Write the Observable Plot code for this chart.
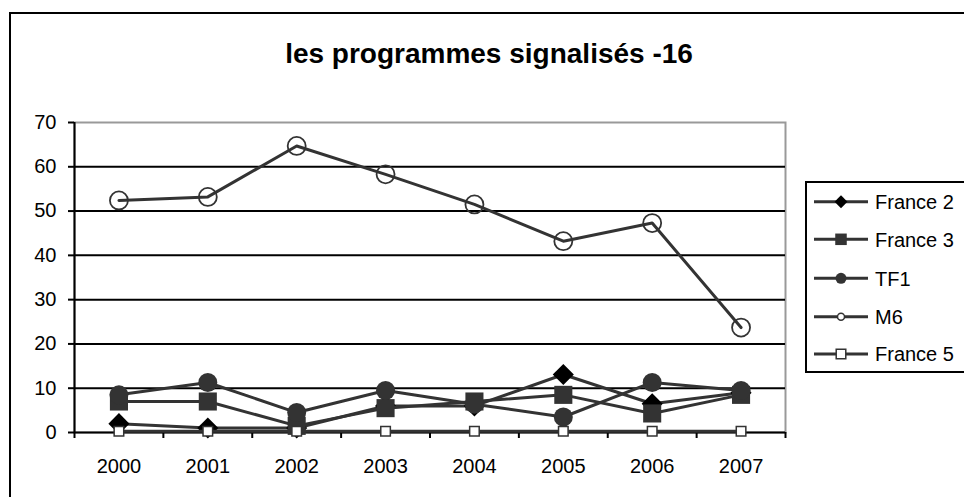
<!DOCTYPE html>
<html><head><meta charset="utf-8">
<script src="https://cdn.jsdelivr.net/npm/d3@7"></script>
<script src="https://cdn.jsdelivr.net/npm/@observablehq/plot@0.6"></script>
<style>
body{margin:0;background:#fff;}
#wrap{position:relative;width:964px;height:497px;overflow:hidden;}
#wrap svg{display:block;overflow:hidden;}
</style></head><body><div id="wrap"></div>
<script>
const titleText = "les programmes signalisés -16";
const years = [2000, 2001, 2002, 2003, 2004, 2005, 2006, 2007];
const seriesNames = ["France 2", "France 3", "TF1", "M6", "France 5"];
const france2 = [2, 1, 1, 6, 6, 13.1, 6.5, 9];
const france3 = [7, 7, 1.5, 5.5, 7, 8.5, 4.3, 8.5];
const tf1 = [8.5, 11.3, 4.5, 9.5, 6.4, 3.5, 11.3, 9.5];
const m6 = [52.4, 53.2, 64.7, 58.3, 51.5, 43.2, 47.3, 23.7];
const france5 = [0.3, 0.3, 0.3, 0.3, 0.3, 0.3, 0.3, 0.3];
const yTicks = [0, 10, 20, 30, 40, 50, 60, 70];

const seriesValues = [france2, france3, tf1, m6, france5];
// marker styles per series (same order as seriesNames)
const styles = [
  {symbol: "diamond2", r: 9.5, fill: "#000", stroke: "none", sw: 0, lr: 5.8},
  {symbol: "square", r: 10.2, fill: "#333", stroke: "none", sw: 0, lr: 6.5},
  {symbol: "circle", r: 9.5, fill: "#333", stroke: "none", sw: 0, lr: 5.5},
  {symbol: "circle", r: 9, fill: "none", stroke: "#333", sw: 1.8, lr: 3.5},
  {symbol: "square", r: 5.4, fill: "#fff", stroke: "#333", sw: 1.5, lr: 5.4}
];

const rows = [];
seriesNames.forEach((name, k) => years.forEach((yr, i) => rows.push({name, year: yr, value: seriesValues[k][i]})));
const boundaries = years.map(y => y - 0.5).concat([years[years.length - 1] + 0.5]);
const xDomain = [boundaries[0], boundaries[boundaries.length - 1]];

const marks = [
  Plot.frame({stroke: "#999", strokeWidth: 2}),
  Plot.ruleY(yTicks.slice(1, -1), {stroke: "#000", strokeWidth: 2}),
  Plot.axisY({ticks: yTicks, tickSize: 6, tickPadding: 12, strokeWidth: 2, label: null}),
  Plot.axisX({ticks: boundaries, tickSize: 6, tickFormat: () => "", strokeWidth: 2, label: null}),
  Plot.axisX({ticks: years, tickSize: 0, tickPadding: 26, tickFormat: d => String(d), label: null}),
  Plot.ruleX([xDomain[0]], {stroke: "#000", strokeWidth: 2}),
  Plot.ruleY([0], {stroke: "#000", strokeWidth: 2})
];
seriesNames.forEach((name, k) => {
  const data = rows.filter(d => d.name === name);
  const s = styles[k];
  marks.push(Plot.line(data, {x: "year", y: "value", stroke: "#333", strokeWidth: 3}));
  marks.push(Plot.dot(data, {x: "year", y: "value", symbol: () => s.symbol, r: s.r, fill: s.fill, stroke: s.stroke, strokeWidth: s.sw}));
});

const chart = Plot.plot({
  width: 964, height: 497,
  marginLeft: 74, marginRight: 179, marginTop: 122, marginBottom: 65,
  x: {type: "linear", domain: xDomain},
  y: {domain: [0, 70]},
  style: {fontSize: "20px", fontFamily: "'Liberation Sans', Arial, sans-serif", color: "#000", background: "#fff", overflow: "hidden"},
  marks
});
document.getElementById("wrap").appendChild(chart);

const svg = d3.select(chart);
svg.insert("rect", ":first-child").attr("x", 10).attr("y", 13).attr("width", 1200).attr("height", 1200)
  .attr("fill", "none").attr("stroke", "#000").attr("stroke-width", 2);
svg.append("text").attr("x", 489).attr("y", 63).attr("text-anchor", "middle")
  .attr("font-size", 28).attr("font-weight", "bold").attr("fill", "#000").text(titleText);

const lg = svg.append("g").attr("text-anchor", "start");
lg.append("rect").attr("x", 806).attr("y", 182).attr("width", 300).attr("height", 190)
  .attr("fill", "#fff").attr("stroke", "#000").attr("stroke-width", 2);
const legendY = [201.7, 239.3, 278.3, 316.7, 354];
const symMap = {circle: d3.symbolCircle, square: d3.symbolSquare, diamond2: d3.symbolDiamond2};
seriesNames.forEach((name, k) => {
  const s = styles[k];
  const y = legendY[k];
  lg.append("line").attr("x1", 814).attr("x2", 868).attr("y1", y).attr("y2", y).attr("stroke", "#333").attr("stroke-width", 3);
  lg.append("path").attr("transform", `translate(841,${y})`)
    .attr("d", d3.symbol(symMap[s.symbol], Math.PI * s.lr * s.lr)())
    .attr("fill", s.fill === "none" ? "#fff" : s.fill).attr("stroke", s.stroke).attr("stroke-width", s.sw ? 1.5 : 0);
  lg.append("text").attr("x", 875).attr("y", y).attr("dy", "0.36em").attr("text-anchor", "start")
    .attr("font-size", 20).attr("fill", "#000").text(name);
});
</script></body></html>
